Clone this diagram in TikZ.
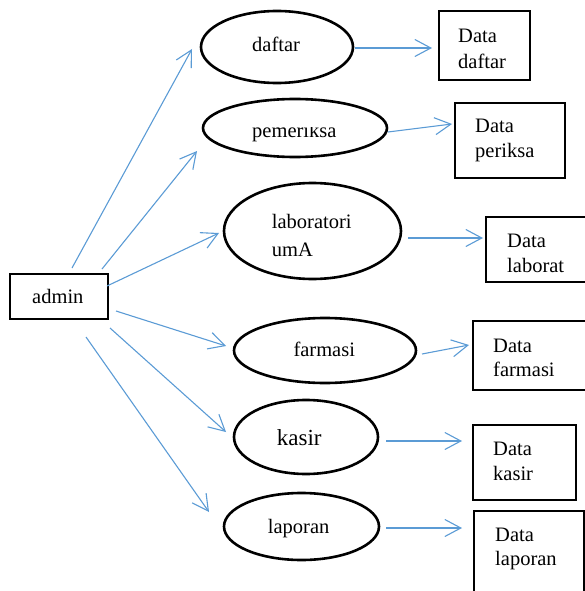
\documentclass[tikz,border=0pt]{standalone}
\usepackage{fontspec}
\setmainfont{Liberation Serif}
\usetikzlibrary{shapes.geometric,arrows.meta}
\definecolor{arrblue}{HTML}{5B9BD5}
\begin{document}
\begin{tikzpicture}[x=1pt,y=-1pt,
  ell/.style={draw=black,line width=2.6pt,ellipse,inner sep=0pt},
  boxn/.style={draw=black,line width=2.2pt,rectangle,inner sep=0pt},
  txt/.style={anchor=base west,inner sep=0pt,font=\fontsize{20.5}{24}\selectfont},
  arr/.style={draw=arrblue,line width=1.1pt,-{Straight Barb[length=16pt,width=17pt,line width=1.1pt]}}]
\useasboundingbox (0,0) rectangle (585,591);
\clip (0,0) rectangle (585,591);
% admin
\node[boxn,minimum width=98pt,minimum height=45pt] (admin) at (59,296.5) {};
\node[txt] (tadmin) at (32,303.3) {admin};
% ellipses
\node[ell,minimum width=152pt,minimum height=72pt] (daftar) at (277,47) {};
\node[txt] (tdaftar) at (252,51.7) {daftar};
\node[ell,minimum width=184pt,minimum height=58pt] (pemeriksa) at (295,128) {};
\begin{scope}
\clip (240,127.5) rectangle (350,150);
\node[txt] (tpemeriksa) at (252,137.7) {pemeriksa};
\end{scope}
\node[ell,minimum width=177pt,minimum height=96pt] (lab) at (312.5,231) {};
\node[txt] (tlab1) at (271.7,228) {laboratori};
\node[txt] (tlab2) at (271.7,256) {umA};
\node[ell,minimum width=182pt,minimum height=65pt] (farmasi) at (325,350.5) {};
\node[txt] (tfarmasi) at (293.3,356.7) {farmasi};
\node[ell,minimum width=144pt,minimum height=74pt] (kasir) at (306,437) {};
\node[txt,font=\fontsize{23}{27}\selectfont] (tkasir) at (276.7,445) {kasir};
\node[ell,minimum width=155pt,minimum height=67pt] (laporan) at (301.5,526.5) {};
\node[txt] (tlaporan) at (267.7,533.3) {laporan};
% data boxes
\node[boxn,minimum width=91pt,minimum height=69pt] (ddaftar) at (484.5,45.5) {};
\node[txt] (tdd1) at (458,42.7) {Data};
\node[txt] (tdd2) at (458,69) {daftar};
\node[boxn,minimum width=110pt,minimum height=75pt] (dperiksa) at (510,140.5) {};
\node[txt] (tdp1) at (475,132.7) {Data};
\node[txt] (tdp2) at (475,157.5) {periksa};
\node[boxn,minimum width=110pt,minimum height=65pt] (dlab) at (541,249.5) {};
\node[txt] (tdl1) at (507,247.7) {Data};
\node[txt] (tdl2) at (507,272) {laborat};
\node[boxn,minimum width=118pt,minimum height=69pt] (dfarmasi) at (532,355.5) {};
\node[txt] (tdf1) at (493,352.3) {Data};
\node[txt] (tdf2) at (493,376) {farmasi};
\node[boxn,minimum width=103pt,minimum height=75pt] (dkasir) at (524.5,462.5) {};
\node[txt] (tdk1) at (493,455.7) {Data};
\node[txt] (tdk2) at (493,480) {kasir};
\node[boxn,minimum width=110pt,minimum height=90pt] (dlaporan) at (529,556) {};
\node[txt] (tdr1) at (495,541.7) {Data};
\node[txt] (tdr2) at (495,565.7) {laporan};
% connector end points
\coordinate (s1) at (72,268);   \coordinate (e1) at (192,49);
\coordinate (s2) at (102,269);  \coordinate (e2) at (197,151);
\coordinate (s3) at (107,286);  \coordinate (e3) at (219,233);
\coordinate (s4) at (116,311);  \coordinate (e4) at (226,346);
\coordinate (s5) at (110,328);  \coordinate (e5) at (226,432);
\coordinate (s6) at (86,337);   \coordinate (e6) at (209,512);
\coordinate (s7) at (355,48);   \coordinate (e7) at (432,48);
\coordinate (s8) at (388,132);  \coordinate (e8) at (452,124);
\coordinate (s9) at (408,238);  \coordinate (e9) at (483,238);
\coordinate (s10) at (422,354); \coordinate (e10) at (469,345);
\coordinate (s11) at (386,441); \coordinate (e11) at (462,441);
\coordinate (s12) at (386,528); \coordinate (e12) at (462,528);
\draw[arr] (s1) -- (e1);
\draw[arr] (s2) -- (e2);
\draw[arr] (s3) -- (e3);
\draw[arr] (s4) -- (e4);
\draw[arr] (s5) -- (e5);
\draw[arr] (s6) -- (e6);
\draw[arr] (s7) -- (e7);
\draw[arr] (s8) -- (e8);
\draw[arr] (s9) -- (e9);
\draw[arr] (s10) -- (e10);
\draw[arr] (s11) -- (e11);
\draw[arr] (s12) -- (e12);
\end{tikzpicture}
\end{document}
